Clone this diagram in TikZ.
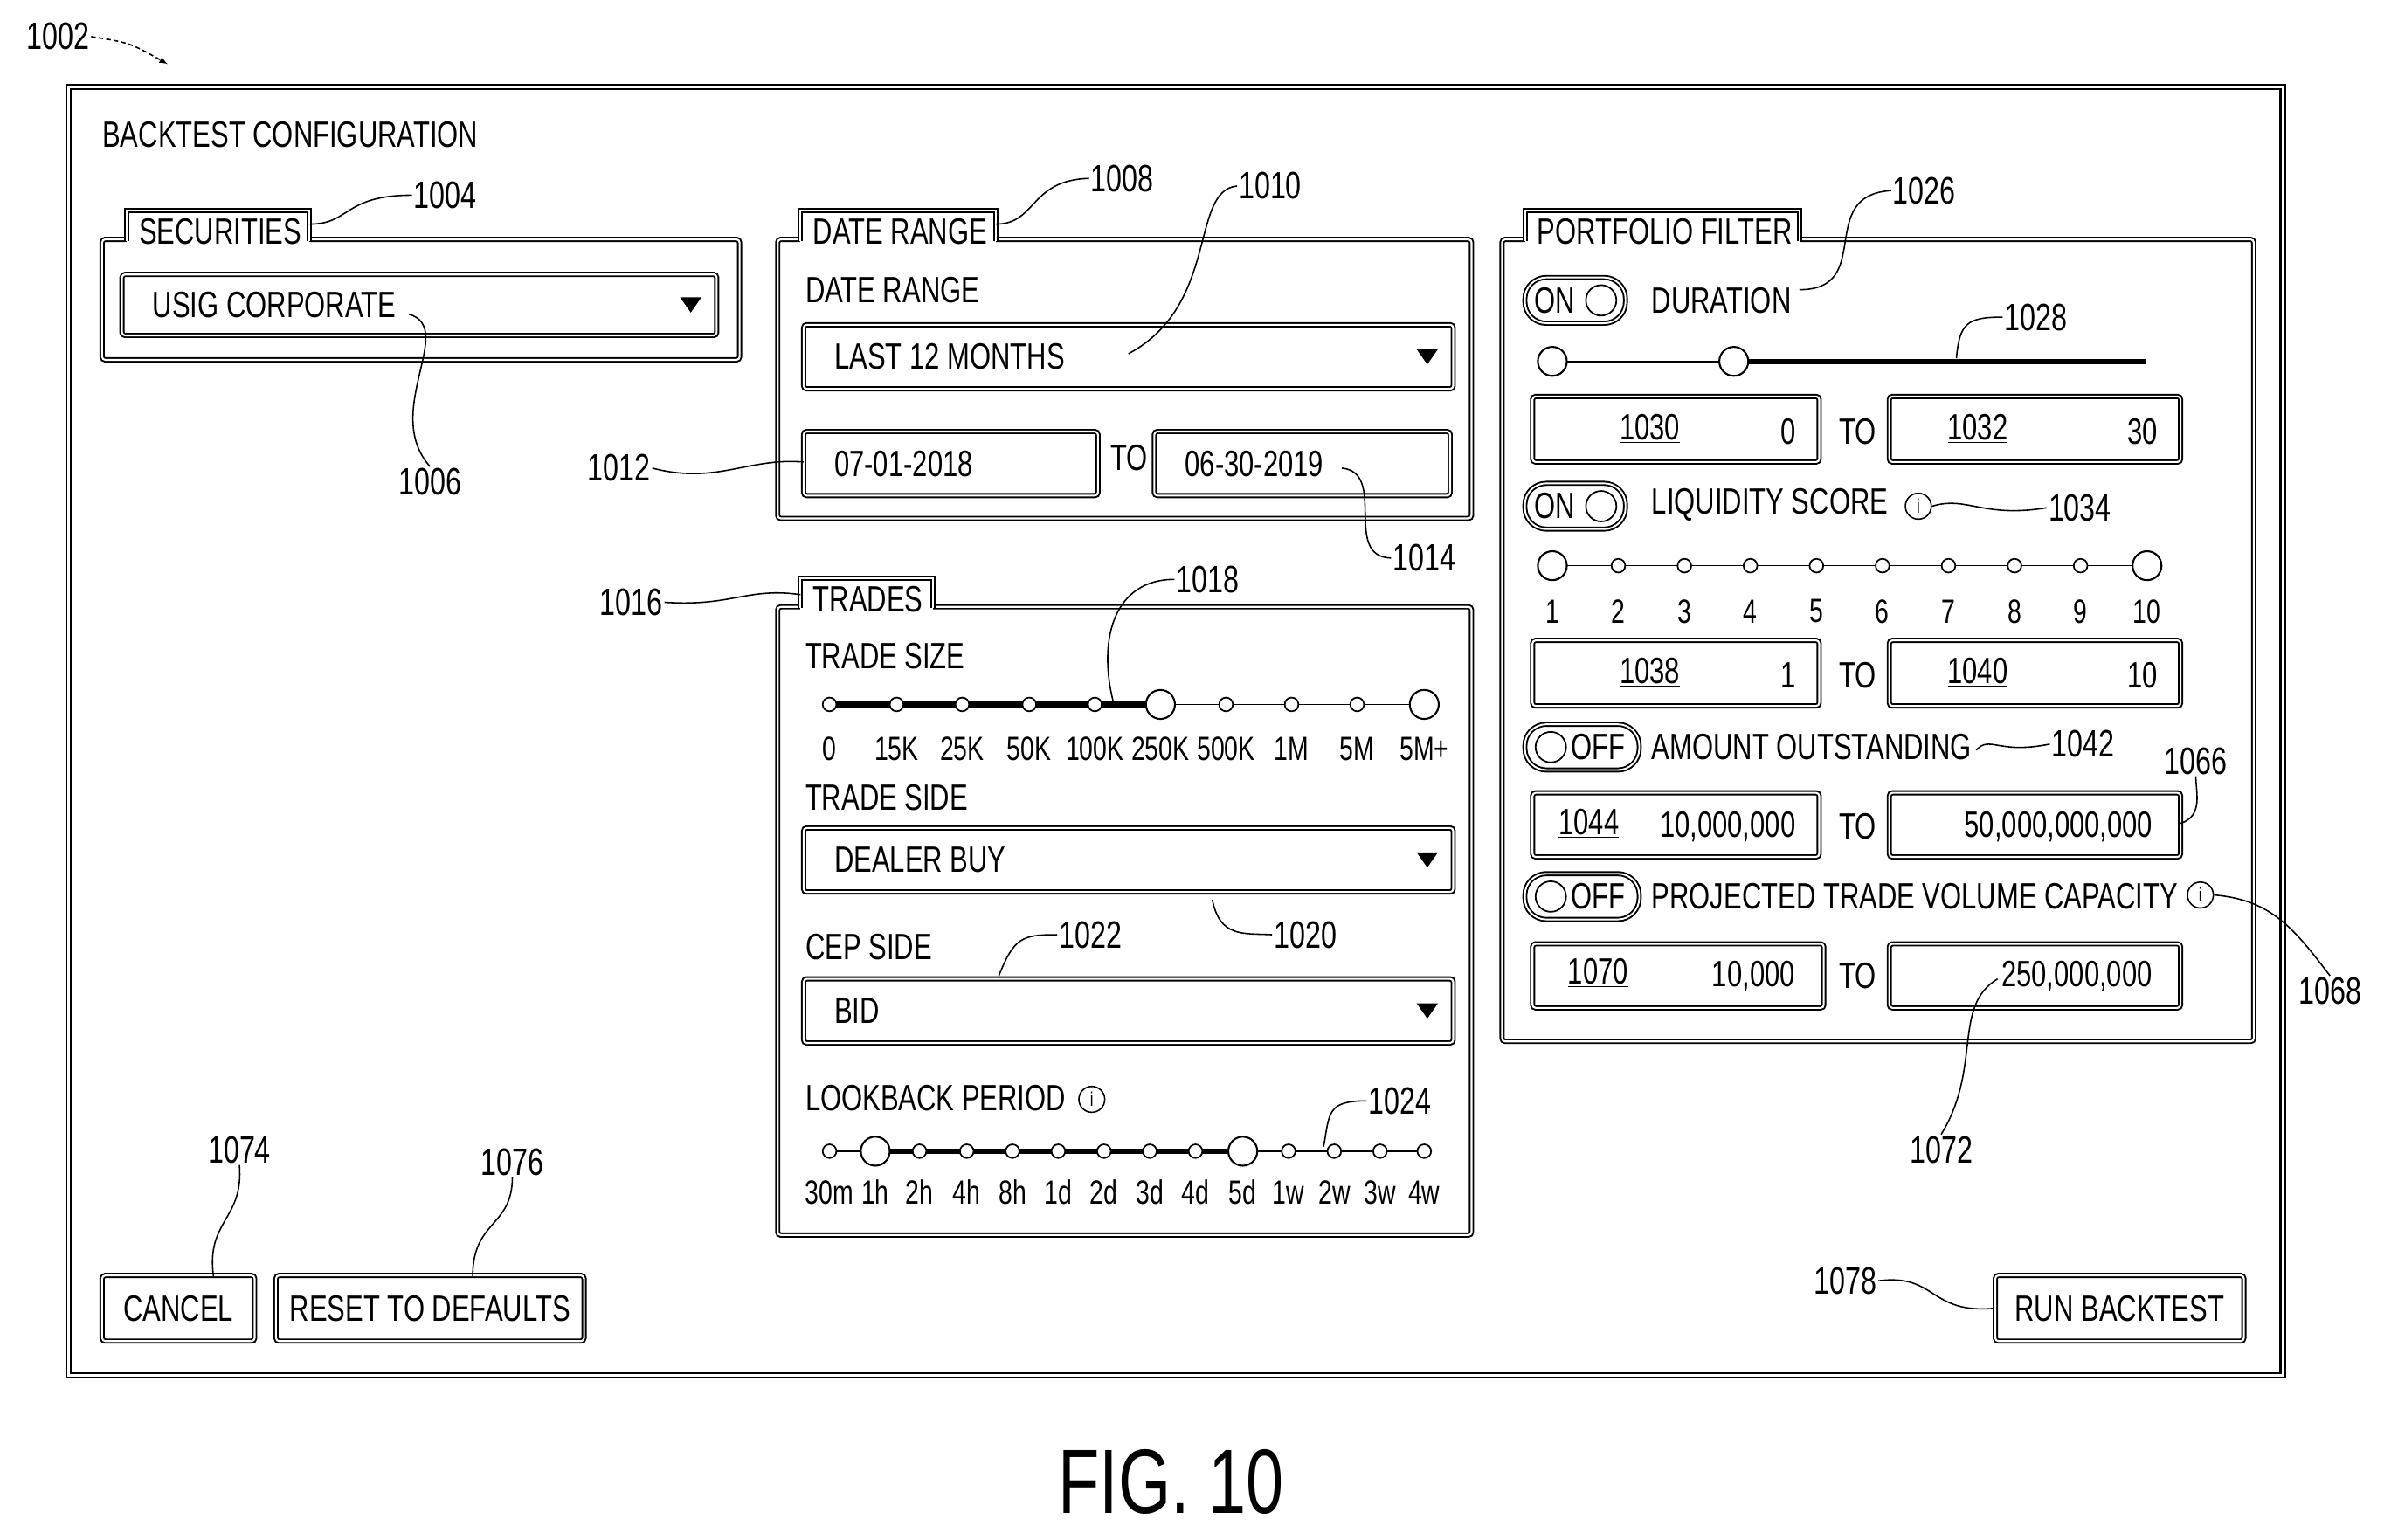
\documentclass[tikz,border=0pt]{standalone}
\usepackage{fontspec}
\setmainfont{Liberation Sans}[FakeStretch=0.74]
\begin{document}
\begin{tikzpicture}[x=1pt,y=-1pt,
  txt/.style={inner sep=0,anchor=west,font=\fontsize{24}{26}\selectfont},
  lbl/.style={inner sep=1,font=\fontsize{25}{27}\selectfont},
  box/.style={draw,line width=1.1,rounded corners=2,double=white,double distance=1.2},
  fld/.style={draw,line width=1.1,rounded corners=2,double=white,double distance=1.2},
  lead/.style={line width=0.9},
  thick line/.style={line width=3.5},
  thin line/.style={line width=1},
  knob/.style={draw,fill=white,line width=1,circle,inner sep=0,minimum size=9},
  bigknob/.style={draw,fill=white,line width=1.2,circle,inner sep=0,minimum size=19}]
\useasboundingbox (0,0) rectangle (1568,1010);
% outer frame
\draw[line width=1.4,double=white,double distance=1.5] (45,57) rectangle (1497,902);
\node[lbl] (n1002) at (38,24) {1002};
\coordinate (c1002) at (110,42);
\draw[lead,densely dashed,-latex] (n1002.east) .. controls (85,28) .. (c1002);
\node[txt] (title) at (67,88) {BACKTEST CONFIGURATION};
% tab macro
\newcommand{\mytab}[5]{%
  \fill[white] (#1,#2-2) rectangle (#3,#2+22);
  \draw[line width=1.1,double=white,double distance=1.2] (#1,#2+20)--(#1,#2)--(#3,#2)--(#3,#2+20);
  \node[txt] (#4) at (#1+8,#2+14) {#5};}
\newcommand{\myinfo}[3]{\node[draw,circle,line width=0.9,inner sep=0,minimum size=17,font=\fontsize{13}{13}\selectfont] (#1) at (#2,#3) {i};}
\newcommand{\mytoggle}[5]{% name x y on/off
  \draw[line width=1.1,double=white,double distance=1.1,rounded corners=14] (#2,#3-15) rectangle (#2+#5,#3+15);
  \ifnum#4=1
    \node[txt] (#1) at (#2+6,#3) {ON};
    \draw[line width=1] (#2+50,#3) circle (10);
  \else
    \draw[line width=1] (#2+17,#3) circle (10);
    \node[txt] (#1) at (#2+30,#3) {OFF};
  \fi}
\newcommand{\drop}[5]{% name x1 y1 x2 y2
  \draw[fld] (#2,#3) rectangle (#4,#5);
  \fill (#4-24,#3/2+#5/2-5) -- (#4-10,#3/2+#5/2-5) -- (#4-17,#3/2+#5/2+5) -- cycle;}
% SECURITIES
\draw[box] (67,157) rectangle (485,236);
\mytab{83}{138}{203}{tsec}{SECURITIES}
\drop{dsec}{80}{180}{470}{220}
\node[txt] (usig) at (100,200) {USIG CORPORATE};
\node[lbl] (n1004) at (292,128) {1004};
\draw[lead] (203,147) .. controls (230,147) and (225,128) .. (n1004.west);
\node[lbl] (n1006) at (282,316) {1006};
\coordinate (c1006) at (268,206);
\draw[lead] (c1006) .. controls (300,215) and (250,270) .. (n1006.north);
% DATE RANGE
\draw[box] (510,157) rectangle (965,340);
\mytab{525}{138}{653}{tdr}{DATE RANGE}
\node[txt] (dr) at (528,190) {DATE RANGE};
\drop{ddr}{527}{213}{953}{255}
\node[txt] (last) at (547,234) {LAST 12 MONTHS};
\draw[fld] (527,283) rectangle (720,325);
\node[txt] (d1) at (547,304) {07-01-2018};
\node[txt] (to1) at (728,300) {TO};
\draw[fld] (757,283) rectangle (951,325);
\node[txt] (d2) at (777,304) {06-30-2019};
\node[lbl] (n1008) at (736,117) {1008};
\draw[lead] (653,147) .. controls (680,147) and (675,118) .. (n1008.west);
\node[lbl] (n1010) at (833,122) {1010};
\coordinate (c1010) at (740,232);
\draw[lead] (n1010.west) .. controls (780,125) and (800,200) .. (c1010);
\node[lbl] (n1012) at (406,307) {1012};
\coordinate (c1012) at (527,303);
\draw[lead] (n1012.east) .. controls (470,318) and (490,300) .. (c1012);
\node[lbl] (n1014) at (934,366) {1014};
\coordinate (c1014) at (880,307);
\draw[lead] (c1014) .. controls (910,310) and (880,365) .. (n1014.west);
% TRADES
\draw[box] (510,398) rectangle (965,810);
\mytab{525}{379}{612}{ttr}{TRADES}
\node[lbl] (n1016) at (414,395) {1016};
\draw[lead] (n1016.east) .. controls (480,398) and (490,385) .. (525,390);
\node[txt] (ts) at (528,430) {TRADE SIZE};
\draw[thick line] (544,462) -- (761,462);
\draw[thin line] (761,462) -- (934,462);
\foreach \x/\t in {544/0,588/15K,631/25K,675/50K,718/100K,761/250K,804/500K,847/1M,890/5M,934/5M+}{
  \node[knob] at (\x,462) {};
  \node[font=\fontsize{22}{24}\selectfont,inner sep=0] at (\x,491) {\t};}
\node[bigknob] (k250) at (761,462) {};
\node[bigknob] (k5m) at (934,462) {};
\node[lbl] (n1018) at (792,380) {1018};
\coordinate (c1018) at (730,460);
\draw[lead] (n1018.west) .. controls (730,380) and (720,420) .. (c1018);
\node[txt] (tsd) at (528,523) {TRADE SIDE};
\drop{dts}{527}{543}{953}{585}
\node[txt] (dealer) at (547,564) {DEALER BUY};
\node[lbl] (n1020) at (856,613) {1020};
\coordinate (c1020) at (795,590);
\draw[lead] (c1020) .. controls (800,615) and (815,612) .. (n1020.west);
\node[txt] (cep) at (528,621) {CEP SIDE};
\node[lbl] (n1022) at (715,613) {1022};
\coordinate (c1022) at (655,640);
\draw[lead] (c1022) .. controls (665,615) and (670,613) .. (n1022.west);
\drop{dcep}{527}{642}{953}{684}
\node[txt] (bid) at (547,663) {BID};
\node[txt] (lb) at (528,720) {LOOKBACK PERIOD};
\myinfo{i1}{716}{721}
\draw[thin line] (544,755) -- (574,755);
\draw[thick line] (574,755) -- (815,755);
\draw[thin line] (815,755) -- (934,755);
\foreach \x/\t in {544/30m,574/1h,603/2h,634/4h,664/8h,694/1d,724/2d,754/3d,784/4d,815/5d,845/1w,875/2w,905/3w,934/4w}{
  \node[knob] at (\x,755) {};
  \node[font=\fontsize{22}{24}\selectfont,inner sep=0] at (\x,782) {\t};}
\node[bigknob] (k1h) at (574,755) {};
\node[bigknob] (k5d) at (815,755) {};
\node[lbl] (n1024) at (918,722) {1024};
\coordinate (c1024) at (868,752);
\draw[lead] (c1024) .. controls (872,730) and (870,722) .. (n1024.west);
% PORTFOLIO FILTER
\draw[box] (985,157) rectangle (1478,683);
\mytab{1000}{138}{1180}{tpf}{PORTFOLIO FILTER}
\node[lbl] (n1026) at (1262,125) {1026};
\coordinate (c1026) at (1180,190);
\draw[lead] (c1026) .. controls (1230,190) and (1190,128) .. (n1026.west);
\mytoggle{tg1}{1000}{197}{1}{66}
\node[txt] (dur) at (1083,197) {DURATION};
\draw[thin line] (1018,237) -- (1137,237);
\draw[thick line] (1137,237) -- (1407,237);
\node[bigknob] (kd1) at (1018,237) {};
\node[bigknob] (kd2) at (1137,237) {};
\node[lbl] (n1028) at (1335,208) {1028};
\coordinate (c1028) at (1283,235);
\draw[lead] (c1028) .. controls (1285,212) and (1290,208) .. (n1028.west);
\draw[fld] (1005,260) rectangle (1193,303);
\node[font=\fontsize{24}{26}\selectfont,inner sep=0] (u1030) at (1082,281) {\underline{1030}};
\node[font=\fontsize{24}{26}\selectfont,inner sep=0] (v0) at (1173,283) {0};
\node[txt] (to3) at (1206,283) {TO};
\draw[fld] (1239,260) rectangle (1430,303);
\node[font=\fontsize{24}{26}\selectfont,inner sep=0] (u1032) at (1297,281) {\underline{1032}};
\node[font=\fontsize{24}{26}\selectfont,inner sep=0] (v30) at (1405,283) {30};
\mytoggle{tg2}{1000}{332}{1}{66}
\node[txt] (liq) at (1083,331) {LIQUIDITY SCORE};
\myinfo{i2}{1258}{332}
\node[lbl] (n1034) at (1364,333) {1034};
\draw[lead] (i2.east) .. controls (1290,325) and (1300,340) .. (n1034.west);
\draw[thin line] (1018,371) -- (1408,371);
\foreach \i in {1,...,10}{
  \pgfmathsetmacro\xx{1018+(\i-1)*43.3}
  \node[knob] at (\xx,371) {};
  \node[font=\fontsize{22}{24}\selectfont,inner sep=0] at (\xx,401) {\i};}
\node[bigknob] (kl1) at (1018,371) {};
\node[bigknob] (kl2) at (1408,371) {};
\draw[fld] (1005,420) rectangle (1193,463);
\node[font=\fontsize{24}{26}\selectfont,inner sep=0] (u1038) at (1082,441) {\underline{1038}};
\node[font=\fontsize{24}{26}\selectfont,inner sep=0] (v1) at (1173,443) {1};
\node[txt] (to4) at (1206,443) {TO};
\draw[fld] (1239,420) rectangle (1430,463);
\node[font=\fontsize{24}{26}\selectfont,inner sep=0] (u1040) at (1297,441) {\underline{1040}};
\node[font=\fontsize{24}{26}\selectfont,inner sep=0] (v10) at (1405,443) {10};
\mytoggle{tg3}{1000}{490}{0}{75}
\node[txt] (amt) at (1083,490) {AMOUNT OUTSTANDING};
\node[lbl] (n1042) at (1366,488) {1042};
\draw[lead] (1296,492) .. controls (1305,482) and (1310,495) .. (n1042.west);
\draw[fld] (1005,520) rectangle (1193,562);
\node[font=\fontsize{24}{26}\selectfont,inner sep=0] (u1044) at (1042,540) {\underline{1044}};
\node[font=\fontsize{24}{26}\selectfont,inner sep=0] (v10m) at (1133,542) {10,000,000};
\node[txt] (to5) at (1206,542) {TO};
\draw[fld] (1239,520) rectangle (1430,562);
\node[font=\fontsize{24}{26}\selectfont,inner sep=0] (v50b) at (1350,542) {50,000,000,000};
\node[lbl] (n1066) at (1440,499) {1066};
\coordinate (c1066) at (1430,540);
\draw[lead] (c1066) .. controls (1445,535) and (1440,520) .. (n1066.south);
\mytoggle{tg4}{1000}{588}{0}{75}
\node[txt] (ptv) at (1083,588) {PROJECTED TRADE VOLUME CAPACITY};
\myinfo{i3}{1443}{587}
\node[lbl] (n1068) at (1528,650) {1068};
\draw[lead] (i3.east) .. controls (1490,590) and (1505,610) .. (n1068.north);
\draw[fld] (1005,619) rectangle (1196,661);
\node[font=\fontsize{24}{26}\selectfont,inner sep=0] (u1070) at (1048,638) {\underline{1070}};
\node[font=\fontsize{24}{26}\selectfont,inner sep=0] (v10k) at (1150,640) {10,000};
\node[txt] (to6) at (1206,640) {TO};
\draw[fld] (1239,619) rectangle (1430,661);
\node[font=\fontsize{24}{26}\selectfont,inner sep=0] (v250m) at (1362,640) {250,000,000};
\node[lbl] (n1072) at (1273,754) {1072};
\coordinate (c1072) at (1310,642);
\draw[lead] (c1072) .. controls (1280,660) and (1300,700) .. (n1072.north);
% buttons
\node[draw,line width=1.1,double=white,double distance=1.2,rounded corners=2,minimum width=100,minimum height=43,inner sep=0,font=\fontsize{24}{26}\selectfont] (cancel) at (117,858) {CANCEL};
\node[draw,line width=1.1,double=white,double distance=1.2,rounded corners=2,minimum width=202,minimum height=43,inner sep=0,font=\fontsize{24}{26}\selectfont] (reset) at (282,858) {RESET TO DEFAULTS};
\node[draw,line width=1.1,double=white,double distance=1.2,rounded corners=2,minimum width=163,minimum height=43,inner sep=0,font=\fontsize{24}{26}\selectfont] (run) at (1390,858) {RUN BACKTEST};
\node[lbl] (n1074) at (157,754) {1074};
\draw[lead] (n1074.south) .. controls (160,800) and (135,800) .. (140,837);
\node[lbl] (n1076) at (336,762) {1076};
\draw[lead] (n1076.south) .. controls (336,805) and (310,800) .. (310,837);
\node[lbl] (n1078) at (1210,840) {1078};
\draw[lead] (n1078.east) .. controls (1270,835) and (1265,862) .. (run.west);
\node[font=\fontsize{60}{62}\selectfont,inner sep=0] (fig) at (768,972) {FIG. 10};
\end{tikzpicture}
\end{document}
